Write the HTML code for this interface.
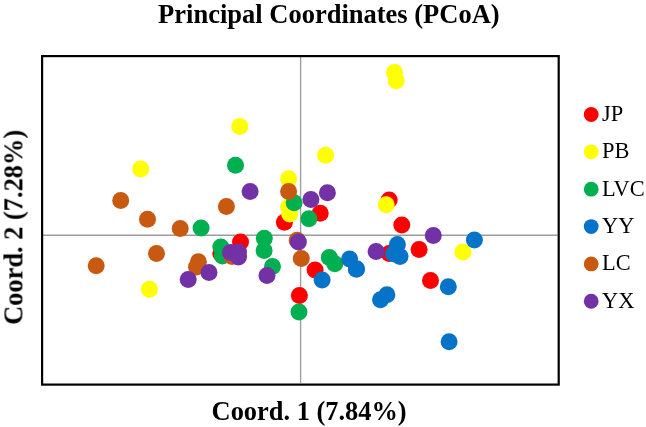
<!DOCTYPE html>
<html><head><meta charset="utf-8"><style>
html,body{margin:0;padding:0;background:#fff;}
svg{display:block;}
text{font-family:"Liberation Serif",serif;}
.t{font-weight:bold;font-size:26.5px;}
.lg{font-size:22.4px;}
.tx{font-weight:bold;font-size:26.4px;}
.txt{filter:grayscale(1);}
</style></head><body>
<svg width="646" height="427" viewBox="0 0 646 427">
<rect x="0" y="0" width="646" height="427" fill="#fff"/>
<line x1="300.6" y1="57" x2="300.6" y2="383" stroke="#A0A0A0" stroke-width="1.4"/>
<line x1="43" y1="235.3" x2="557.5" y2="235.3" stroke="#9C9C9C" stroke-width="1.4"/>
<circle cx="240.5" cy="242.1" r="8.5" fill="#FF0000"/><circle cx="220.8" cy="253.5" r="8.5" fill="#FF0000"/><circle cx="284.4" cy="222.3" r="8.5" fill="#FF0000"/><circle cx="320.2" cy="213.2" r="8.5" fill="#FF0000"/><circle cx="389.2" cy="200" r="8.5" fill="#FF0000"/><circle cx="401.8" cy="225.1" r="8.5" fill="#FF0000"/><circle cx="389.2" cy="253.5" r="8.5" fill="#FF0000"/><circle cx="419.1" cy="249.5" r="8.5" fill="#FF0000"/><circle cx="430.5" cy="280.5" r="8.5" fill="#FF0000"/><circle cx="315.1" cy="270.1" r="8.5" fill="#FF0000"/><circle cx="299.4" cy="295.6" r="8.5" fill="#FF0000"/><circle cx="239.8" cy="126.5" r="8.5" fill="#FFFF00"/><circle cx="140.7" cy="169" r="8.5" fill="#FFFF00"/><circle cx="149.4" cy="289.3" r="8.5" fill="#FFFF00"/><circle cx="288.6" cy="178.8" r="8.5" fill="#FFFF00"/><circle cx="288.7" cy="207" r="8.5" fill="#FFFF00"/><circle cx="289.7" cy="214" r="8.5" fill="#FFFF00"/><circle cx="325.6" cy="155.3" r="8.5" fill="#FFFF00"/><circle cx="394.5" cy="72.6" r="8.5" fill="#FFFF00"/><circle cx="396.2" cy="80.7" r="8.5" fill="#FFFF00"/><circle cx="386.2" cy="204.8" r="8.5" fill="#FFFF00"/><circle cx="463" cy="252" r="8.5" fill="#FFFF00"/><circle cx="235.5" cy="165.3" r="8.5" fill="#00B050"/><circle cx="201.1" cy="228" r="8.5" fill="#00B050"/><circle cx="220.8" cy="247.1" r="8.5" fill="#00B050"/><circle cx="222.4" cy="256.1" r="8.5" fill="#00B050"/><circle cx="264.3" cy="238.3" r="8.5" fill="#00B050"/><circle cx="264.1" cy="250.4" r="8.5" fill="#00B050"/><circle cx="272.5" cy="266.5" r="8.5" fill="#00B050"/><circle cx="294.1" cy="202.7" r="8.5" fill="#00B050"/><circle cx="308.9" cy="218.8" r="8.5" fill="#00B050"/><circle cx="329.3" cy="257.6" r="8.5" fill="#00B050"/><circle cx="334.8" cy="263.8" r="8.5" fill="#00B050"/><circle cx="299" cy="312" r="8.5" fill="#00B050"/><circle cx="397.4" cy="244.5" r="8.5" fill="#0574C8"/><circle cx="393.5" cy="253.8" r="8.5" fill="#0574C8"/><circle cx="400" cy="256.6" r="8.5" fill="#0574C8"/><circle cx="356.4" cy="269.3" r="8.5" fill="#0574C8"/><circle cx="322.1" cy="280" r="8.5" fill="#0574C8"/><circle cx="349.6" cy="259" r="8.5" fill="#0574C8"/><circle cx="356.5" cy="268.7" r="8.5" fill="#0574C8"/><circle cx="386.9" cy="294.7" r="8.5" fill="#0574C8"/><circle cx="380.5" cy="299.7" r="8.5" fill="#0574C8"/><circle cx="474.4" cy="239.9" r="8.5" fill="#0574C8"/><circle cx="448.3" cy="286.7" r="8.5" fill="#0574C8"/><circle cx="449.1" cy="341.7" r="8.5" fill="#0574C8"/><circle cx="120.7" cy="200.6" r="8.5" fill="#C75A10"/><circle cx="147.5" cy="219.2" r="8.5" fill="#C75A10"/><circle cx="180.2" cy="228.4" r="8.5" fill="#C75A10"/><circle cx="96.2" cy="265.7" r="8.5" fill="#C75A10"/><circle cx="156.5" cy="253.4" r="8.5" fill="#C75A10"/><circle cx="226.4" cy="206.6" r="8.5" fill="#C75A10"/><circle cx="198.4" cy="261.7" r="8.5" fill="#C75A10"/><circle cx="196.5" cy="267" r="8.5" fill="#C75A10"/><circle cx="232" cy="256.5" r="8.5" fill="#C75A10"/><circle cx="288.6" cy="191.6" r="8.5" fill="#C75A10"/><circle cx="297.2" cy="240.3" r="8.5" fill="#C75A10"/><circle cx="301.3" cy="258.5" r="8.5" fill="#C75A10"/><circle cx="250.1" cy="191.5" r="8.5" fill="#7231A5"/><circle cx="188.2" cy="279.4" r="8.5" fill="#7231A5"/><circle cx="209" cy="272.5" r="8.5" fill="#7231A5"/><circle cx="230.5" cy="252.5" r="8.5" fill="#7231A5"/><circle cx="238.5" cy="252" r="8.5" fill="#7231A5"/><circle cx="238.5" cy="257" r="8.5" fill="#7231A5"/><circle cx="267" cy="275.6" r="8.5" fill="#7231A5"/><circle cx="298.4" cy="242.1" r="8.5" fill="#7231A5"/><circle cx="310.9" cy="199.4" r="8.5" fill="#7231A5"/><circle cx="327.4" cy="192.8" r="8.5" fill="#7231A5"/><circle cx="433.3" cy="235.4" r="8.5" fill="#7231A5"/><circle cx="376.1" cy="251.4" r="8.5" fill="#7231A5"/>
<rect x="42.1" y="56.1" width="516.6" height="328.5" fill="none" stroke="#000" stroke-width="2.2"/>
<circle cx="591.2" cy="114.50" r="7.4" fill="#FF0000"/><circle cx="591.2" cy="151.85" r="7.4" fill="#FFFF00"/><circle cx="591.2" cy="189.20" r="7.4" fill="#00B050"/><circle cx="591.2" cy="226.55" r="7.4" fill="#0574C8"/><circle cx="591.2" cy="263.90" r="7.4" fill="#C75A10"/><circle cx="591.2" cy="301.25" r="7.4" fill="#7231A5"/>
<g class="txt">
<text x="158.1" y="23.2" class="t">Principal Coordinates (PCoA)</text>
<text x="211.6" y="419.5" class="tx">Coord. 1 (7.84%)</text>
<text transform="translate(22.4,324.8) rotate(-90)" x="0" y="0" class="tx">Coord. 2 (7.28%)</text>
<text x="602" y="120.80" class="lg">JP</text><text x="602" y="158.15" class="lg">PB</text><text x="602" y="195.50" class="lg">LVC</text><text x="602" y="232.85" class="lg">YY</text><text x="602" y="270.20" class="lg">LC</text><text x="602" y="307.55" class="lg">YX</text>
</g>
</svg>
</body></html>
